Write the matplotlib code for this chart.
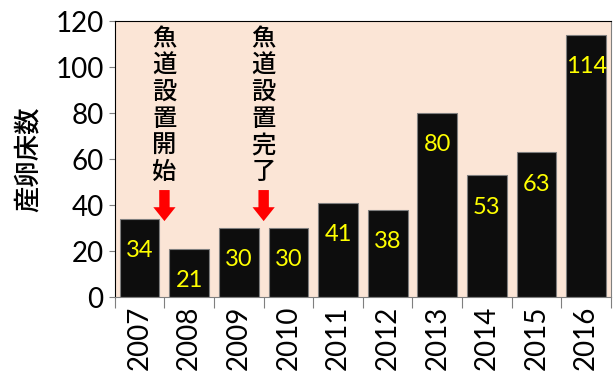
import matplotlib.pyplot as plt
import numpy as np

plt.rcParams['font.family'] = ['Lato', 'Noto Sans CJK JP', 'DejaVu Sans']

# 年ごとの産卵床数
years = ['2007', '2008', '2009', '2010', '2011', '2012', '2013', '2014', '2015', '2016']
counts = [34, 21, 30, 30, 41, 38, 80, 53, 63, 114]

# 魚道の出来事 (矢印は年の境目に置く)
event_labels = ['魚道設置開始', '魚道設置完了']
event_after_year = ['2007', '2009']

fig = plt.figure(figsize=(6.14, 3.72), dpi=100)
ax = fig.add_axes([0.187, 0.2016, 0.808, 0.7419])
ax.set_facecolor('#FBE5D6')

x = np.arange(len(years))
ax.bar(x, counts, width=0.8, color='#0D0D0D', edgecolor='#7F7F7F', linewidth=0.8, zorder=2)

for xi, v in zip(x, counts):
    ax.annotate(str(v), (xi, v), xytext=(0, -23), textcoords='offset points',
                ha='center', va='center', color='#FFFF00', fontsize=17)

for label, yr in zip(event_labels, event_after_year):
    xb = years.index(yr) + 0.5
    ax.text(xb, 117.5, '\n'.join(label), ha='center', va='top', fontsize=17.5,
            family=['Noto Sans CJK JP'], fontweight='medium', linespacing=1.02)
    ax.annotate('', xy=(xb, 33), xytext=(xb, 46.5),
                arrowprops=dict(arrowstyle='simple,head_width=1.6,head_length=1.0,tail_width=0.75',
                                mutation_scale=10, color='#FF0000', lw=0, shrinkA=0, shrinkB=0))

ax.set_xlim(-0.5, len(years) - 0.5)
ax.set_ylim(0, 120)
ax.set_yticks(np.arange(0, 121, 20))
ax.tick_params(axis='y', labelsize=20, length=4, color='#7F7F7F', pad=4)

# 目盛りは棒の間、ラベルは棒の中央
ax.set_xticks(np.arange(-0.5, len(years), 1))
ax.set_xticklabels([])
ax.set_xticks(x, minor=True)
ax.set_xticklabels(years, minor=True, rotation=90, fontsize=20)
ax.tick_params(axis='x', which='major', length=8, color='#7F7F7F')
ax.tick_params(axis='x', which='minor', length=0, pad=6)

ax.set_ylabel('産卵床数', fontsize=19, family=['Noto Sans CJK JP'], fontweight='medium', labelpad=10)

ax.spines['top'].set_color('#000000')
ax.spines['left'].set_color('#000000')
ax.spines['bottom'].set_color('#7F7F7F')
ax.spines['right'].set_color('#7F7F7F')

fig.savefig('out.png', dpi=100)
